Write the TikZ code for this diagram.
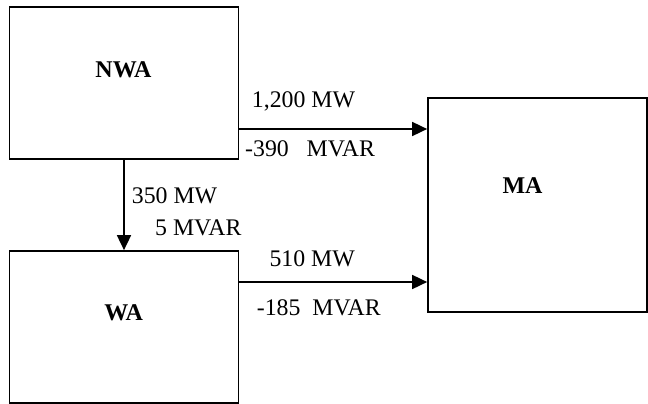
\documentclass[tikz,border=0pt]{standalone}
\usepackage{fontspec}
\setmainfont{Liberation Serif}
\usetikzlibrary{arrows.meta}
\begin{document}
\begin{tikzpicture}[x=1pt,y=-1pt,
  area/.style={draw,line width=1.7pt,inner sep=0pt},
  arr/.style={line width=1.7pt,-{Triangle[length=15pt,width=14pt]}},
  lbl/.style={anchor=base west,inner sep=0pt,font=\fontsize{23.8}{26}\selectfont},
  nm/.style={anchor=base,inner sep=0pt,font=\fontsize{24}{26}\selectfont\bfseries}]
\useasboundingbox (0,0) rectangle (648,404);
\node[area,minimum width=229pt,minimum height=152pt] (NWA) at (124,83) {};
\node[area,minimum width=229pt,minimum height=152pt] (WA) at (124,327) {};
\node[area,minimum width=219pt,minimum height=214pt] (MA) at (537.5,205) {};
\node[nm] (tNWA) at (123.5,77.3) {NWA};
\node[nm] (tWA) at (123.7,320) {WA};
\node[nm] (tMA) at (522.5,193.3) {MA};
\draw[arr] (NWA.east |- 0,129) -- (MA.west |- 0,129);
\draw[arr] (WA.east |- 0,282) -- (MA.west |- 0,282);
\draw[arr] (NWA.south) -- (WA.north);
\node[lbl] (l1) at (251.7,107.7) {1,200 MW};
\node[lbl] (l2) at (245,156) {-390~~~MVAR};
\node[lbl] (l3) at (269.3,266.7) {510 MW};
\node[lbl] (l4) at (256.7,315) {-185~~MVAR};
\node[lbl] (l5) at (131.7,203) {350 MW};
\node[lbl] (l6) at (155,235) {5 MVAR};
\end{tikzpicture}
\end{document}
